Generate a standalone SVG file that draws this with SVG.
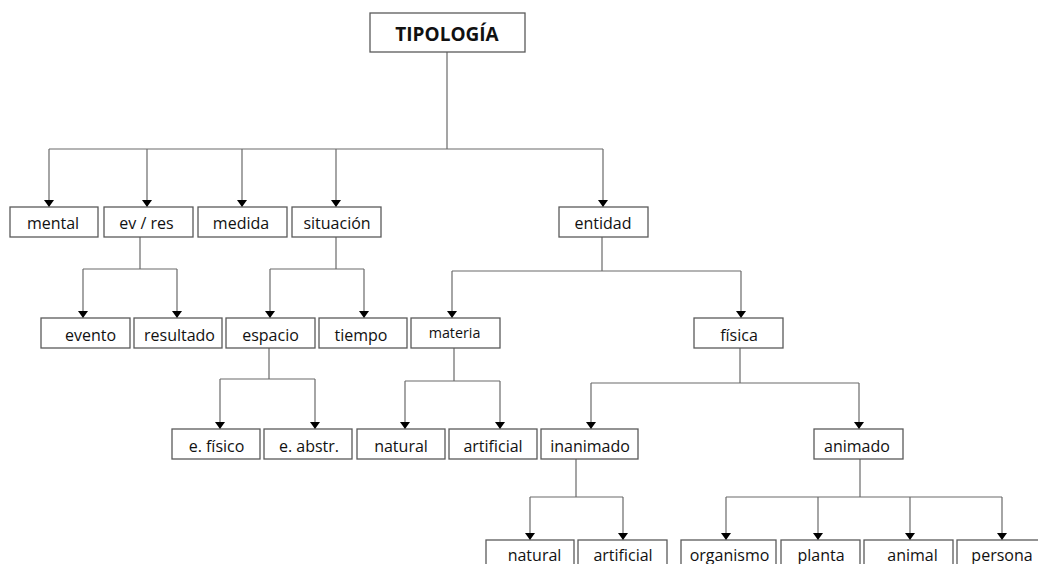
<svg xmlns="http://www.w3.org/2000/svg" width="1038" height="564" viewBox="0 0 1038 564">
<style>
.box{fill:#fff;stroke:#5a5a5a;stroke-width:1.3}
.t{font-family:"Open Sans","DejaVu Sans",sans-serif;font-size:16px;fill:#111;text-anchor:middle}
.sm{font-size:14.3px}
.title{font-family:"Open Sans","DejaVu Sans",sans-serif;font-size:19px;font-weight:bold;fill:#111;text-anchor:middle}
.c{fill:none;stroke:#6a6a6a;stroke-width:1.2}
.a{fill:none;stroke:#6a6a6a;stroke-width:1.2;marker-end:url(#arr)}
</style>
<defs>
<marker id="arr" markerUnits="userSpaceOnUse" markerWidth="8" markerHeight="11" refX="7" refY="5" orient="auto" viewBox="0 0 8 10">
<path d="M0,0 L7,5 L0,10 z" fill="#000"/>
</marker>
</defs>
<rect width="1038" height="564" fill="#fff"/>
<g id="connectors">
<path class="c" d="M447,52 V149 M49,149 H603"/>
<path class="a" d="M49,149 V207"/>
<path class="a" d="M147,149 V207"/>
<path class="a" d="M242,149 V207"/>
<path class="a" d="M336,149 V207"/>
<path class="a" d="M603,149 V207"/>
<path class="c" d="M140,237 V269 M83,269 H177"/>
<path class="a" d="M83,269 V318"/>
<path class="a" d="M177,269 V318"/>
<path class="c" d="M336,237 V269 M270,269 H364"/>
<path class="a" d="M270,269 V318"/>
<path class="a" d="M364,269 V318"/>
<path class="c" d="M602,237 V271 M452,271 H741"/>
<path class="a" d="M452,271 V318"/>
<path class="a" d="M741,271 V318"/>
<path class="c" d="M269,348 V379 M220,379 H315"/>
<path class="a" d="M220,379 V429"/>
<path class="a" d="M315,379 V429"/>
<path class="c" d="M454,348 V381 M405,381 H500"/>
<path class="a" d="M405,381 V429"/>
<path class="a" d="M500,381 V429"/>
<path class="c" d="M740,348 V383 M591,383 H859"/>
<path class="a" d="M591,383 V429"/>
<path class="a" d="M859,383 V429"/>
<path class="c" d="M576,459 V497 M530,497 H623"/>
<path class="a" d="M530,497 V540"/>
<path class="a" d="M623,497 V540"/>
<path class="c" d="M860,459 V497 M726,497 H1002"/>
<path class="a" d="M726,497 V540"/>
<path class="a" d="M818,497 V540"/>
<path class="a" d="M910,497 V540"/>
<path class="a" d="M1002,497 V540"/>
</g>
<g id="tipologia"><rect class="box" x="370" y="13" width="155" height="39"/><text class="title" x="447" y="40.5">TIPOLOGÍA</text></g>
<g id="mental"><rect class="box" x="10" y="207" width="88" height="30"/><text class="t" x="53" y="229">mental</text></g>
<g id="evres"><rect class="box" x="104" y="207" width="89" height="30"/><text class="t" x="146.5" y="229">ev / res</text></g>
<g id="medida"><rect class="box" x="198" y="207" width="89" height="30"/><text class="t" x="241" y="229">medida</text></g>
<g id="situacion"><rect class="box" x="292" y="207" width="89" height="30"/><text class="t" x="337" y="229">situación</text></g>
<g id="entidad"><rect class="box" x="559" y="207" width="89" height="30"/><text class="t" x="603" y="229">entidad</text></g>
<g id="evento"><rect class="box" x="41" y="318" width="89" height="30"/><text class="t" x="90.5" y="340.5">evento</text></g>
<g id="resultado"><rect class="box" x="134" y="318" width="88" height="30"/><text class="t" x="179.5" y="340.5">resultado</text></g>
<g id="espacio"><rect class="box" x="226" y="318" width="89" height="30"/><text class="t" x="270.5" y="340.5">espacio</text></g>
<g id="tiempo"><rect class="box" x="319" y="318" width="88" height="30"/><text class="t" x="361" y="340.5">tiempo</text></g>
<g id="materia"><rect class="box" x="411" y="318" width="89" height="30"/><text class="t sm" x="454.5" y="338">materia</text></g>
<g id="fisica"><rect class="box" x="694" y="318" width="89" height="30"/><text class="t" x="739" y="340.5">física</text></g>
<g id="efisico"><rect class="box" x="172" y="429" width="88" height="30"/><text class="t" x="216.5" y="451.5">e. físico</text></g>
<g id="eabstr"><rect class="box" x="264" y="429" width="88" height="30"/><text class="t" x="309" y="451.5">e. abstr.</text></g>
<g id="natural1"><rect class="box" x="357" y="429" width="88" height="30"/><text class="t" x="401" y="451.5">natural</text></g>
<g id="artificial1"><rect class="box" x="449" y="429" width="88" height="30"/><text class="t" x="493" y="451.5">artificial</text></g>
<g id="inanimado"><rect class="box" x="541" y="429" width="97" height="30"/><text class="t" x="590" y="451.5">inanimado</text></g>
<g id="animado"><rect class="box" x="814" y="429" width="89" height="30"/><text class="t" x="857" y="451.5">animado</text></g>
<g id="natural2"><rect class="box" x="486" y="540" width="88" height="30"/><text class="t" x="534.5" y="560.5">natural</text></g>
<g id="artificial2"><rect class="box" x="578" y="540" width="89" height="30"/><text class="t" x="623" y="560.5">artificial</text></g>
<g id="organismo"><rect class="box" x="681" y="540" width="95" height="30"/><text class="t" x="729.5" y="560.5">organismo</text></g>
<g id="planta"><rect class="box" x="781" y="540" width="79" height="30"/><text class="t" x="821" y="560.5">planta</text></g>
<g id="animal"><rect class="box" x="864" y="540" width="89" height="30"/><text class="t" x="912.5" y="560.5">animal</text></g>
<g id="persona"><rect class="box" x="957" y="540" width="89" height="30"/><text class="t" x="1002" y="560.5">persona</text></g>
</svg>
